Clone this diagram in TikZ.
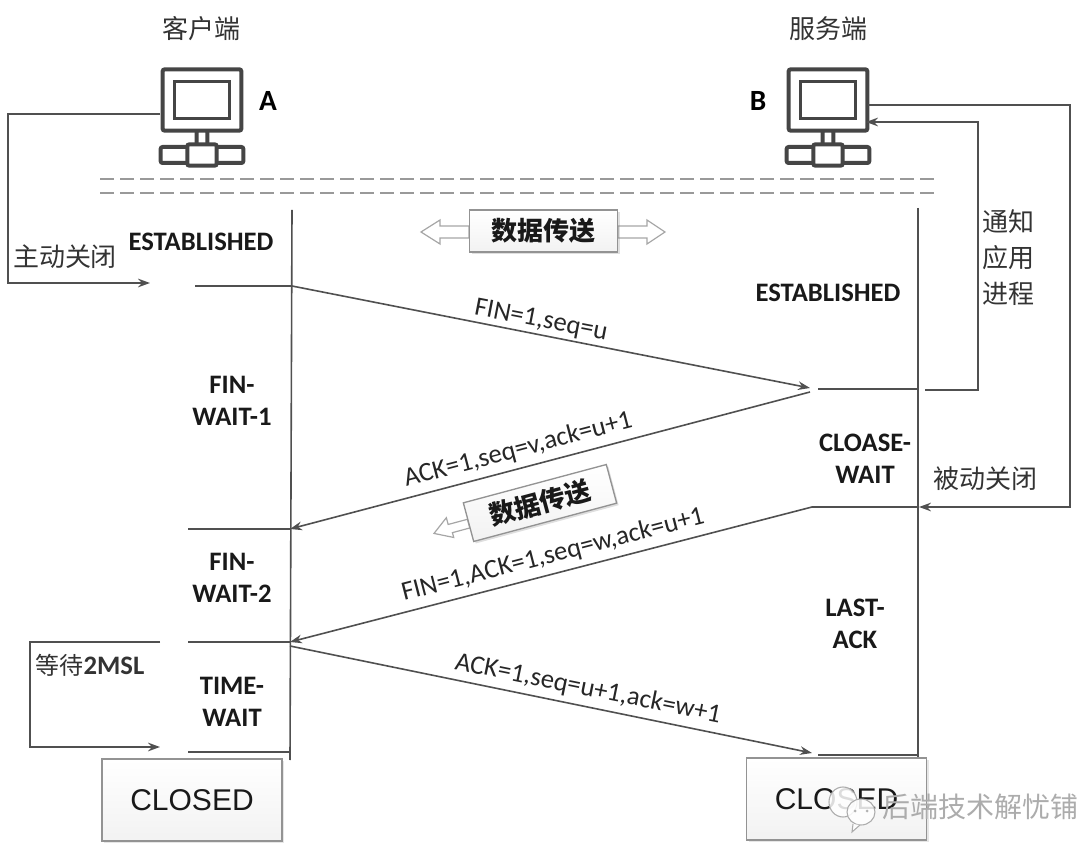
\documentclass[tikz,border=0pt]{standalone}
\usepackage{fontspec}
\setmainfont{Carlito}
\newfontfamily\cjk{Noto Sans CJK SC}
\newfontfamily\closedfont{Liberation Sans}
\usetikzlibrary{arrows.meta,shadows}
\definecolor{ln}{HTML}{505050}
\definecolor{pc}{HTML}{454545}
\tikzset{
  conn/.style={draw=ln,line width=1.2pt},
  arr/.style={conn,-{Stealth[length=9pt,width=6.5pt]}},
  dashln/.style={draw=gray!80,line width=1pt,dash pattern=on 10.5pt off 4.5pt},
  state/.style={font=\fontsize{20}{22}\selectfont\bfseries,align=center,text=black!90,inner sep=0pt},
  msg/.style={font=\fontsize{20}{22}\selectfont,text=black!85,inner sep=0pt},
  zh/.style={font=\cjk\fontsize{19.5}{27}\selectfont,align=center,text=black!80,inner sep=0pt},
  hostname/.style={font=\fontsize{22}{24}\selectfont\bfseries,inner sep=0pt},
  closedbox/.style={draw=gray!85,line width=1pt,top color=white,bottom color=gray!10,minimum width=135pt,minimum height=61.5pt,
     font=\closedfont\fontsize{22.5}{26}\selectfont,text=black!90,drop shadow={opacity=.2,shadow xshift=1.5pt,shadow yshift=-1.5pt}},
  databox/.style={draw=gray!85,line width=1pt,top color=white,bottom color=gray!10,minimum width=111pt,minimum height=31.5pt,
     font=\cjk\fontsize{19.5}{24}\bfseries\selectfont,text=black!90,inner sep=0pt,drop shadow={opacity=.25,shadow xshift=1.5pt,shadow yshift=-1.5pt}},
  hollow/.style={draw=gray!70,line width=.9pt,fill=white},
  pcpart/.style={draw=pc,line width=3pt,rounded corners=1.5pt,fill=white,inner sep=0pt,outer sep=0pt},
  pcinner/.style={draw=pc,line width=1.8pt,fill=white,inner sep=0pt},
  markname/.style={font=\cjk\fontsize{21}{24}\selectfont,text=gray!65,inner sep=0pt},
  bubble/.style={draw=gray!65,line width=.8pt,fill=white,fill opacity=.85},
}
% #1 name, #2 x of the screen centre
\newcommand{\pcicon}[2]{%
  \node[pcpart,minimum width=8pt,minimum height=12pt] (#1stem) at (#2,138) {};
  \node[pcpart,minimum width=62pt,minimum height=12pt] (#1base) at (#2,155) {};
  \node[pcpart,minimum width=22pt,minimum height=16pt] (#1hub) at (#2,155) {};
  \node[pcpart,minimum width=59pt,minimum height=46pt] (#1) at (#2,100) {};
  \node[pcinner,minimum width=41pt,minimum height=28pt] (#1in) at (#2,100) {};
}
\begin{document}
\begin{tikzpicture}[x=0.75pt,y=-0.75pt]
\useasboundingbox (0,0) rectangle (1079,848);

% named ends
\coordinate (dashAl) at (100,179); \coordinate (dashAr) at (938,179);
\coordinate (dashBl) at (100,193); \coordinate (dashBr) at (938,193);
\coordinate (lineAtop) at (292,210); \coordinate (lineAbot) at (290,760);
\coordinate (lineBtop) at (918,208); \coordinate (lineBbot) at (918,758);
\coordinate (aOut) at (160,114); \coordinate (aC1) at (8,114); \coordinate (aC2) at (8,283); \coordinate (aEnd) at (150,283);
\coordinate (bIn) at (866,122); \coordinate (bC1) at (978,122); \coordinate (bC2) at (978,390); \coordinate (bS) at (925,390);
\coordinate (cOut) at (868,105); \coordinate (cC1) at (1070,105); \coordinate (cC2) at (1070,507); \coordinate (cEnd) at (919,507);
\coordinate (t1) at (195,286); \coordinate (a1) at (292,286);
\coordinate (b1e) at (810,388); \coordinate (b1s) at (818,389); \coordinate (b1r) at (918,389);
\coordinate (b2s) at (810,392); \coordinate (a2) at (290,529); \coordinate (t2) at (188,529);
\coordinate (b3s) at (812,507); \coordinate (b3r) at (918,507); \coordinate (a3) at (290,642); \coordinate (t3) at (188,642);
\coordinate (a4) at (290,646); \coordinate (b4e) at (812,753); \coordinate (b4s) at (818,755); \coordinate (b4r) at (918,755);
\coordinate (t4) at (188,752); \coordinate (a5) at (290,752);
\coordinate (wS) at (160,642); \coordinate (wC1) at (30,642); \coordinate (wC2) at (30,747); \coordinate (wE) at (160,747);

% dashed separators
\draw[dashln] (dashAl) -- (dashAr);
\draw[dashln] (dashBl) -- (dashBr);

% icons
\pcicon{pcA}{202}
\pcicon{pcB}{828}

% titles
\node[zh] (clientT) at (201,29) {客户端};
\node[zh] (serverT) at (828,29) {服务端};
\node[hostname] (nameA) at (268,101) {A};
\node[hostname] (nameB) at (758,101) {B};

% timelines
\draw[conn] (lineAtop) -- (lineAbot);
\draw[conn] (lineBtop) -- (lineBbot);

% side connectors
\draw[arr] (aOut) -- (aC1) -- (aC2) -- (aEnd);
\draw[arr] (bS) -- (bC2) -- (bC1) -- (bIn);
\draw[arr] (cOut) -- (cC1) -- (cC2) -- (cEnd);
\draw[arr] (wS) -- (wC1) -- (wC2) -- (wE);

% ticks
\draw[conn] (t1) -- (a1);
\draw[conn] (b1s) -- (b1r);
\draw[conn] (t2) -- (a2);
\draw[conn] (b3s) -- (b3r);
\draw[conn] (t3) -- (a3);
\draw[conn] (b4s) -- (b4r);
\draw[conn] (t4) -- (a5);

% messages
\draw[arr] (a1) -- (b1e);
\draw[arr] (b2s) -- (a2);
\draw[arr] (b3s) -- (a3);
\draw[arr] (a4) -- (b4e);

% message labels
\node[msg,rotate=-11] (m1) at (541,321) {FIN=1,seq=u};
\node[msg,rotate=14.7] (m2) at (518,450) {ACK=1,seq=v,ack=u+1};
\node[msg,rotate=14.5] (m3) at (553,555) {FIN=1,ACK=1,seq=w,ack=u+1};
\node[msg,rotate=-11.5] (m4) at (588,689) {ACK=1,seq=u+1,ack=w+1};

% state labels
\node[state] (s1) at (201,242) {ESTABLISHED};
\node[state] (s2) at (232,401) {FIN-\\[2pt]WAIT-1};
\node[state] (s3) at (232,578) {FIN-\\[2pt]WAIT-2};
\node[state] (s4) at (232,702) {TIME-\\[2pt]WAIT};
\node[state] (s5) at (828,293) {ESTABLISHED};
\node[state] (s6) at (865,459) {CLOASE-\\[2pt]WAIT};
\node[state] (s7) at (855,624) {LAST-\\[2pt]ACK};

% side labels
\node[zh] (l1) at (65,257) {主动关闭};
\node[zh] (l2) at (1008,258) {通知\\应用\\进程};
\node[zh] (l3) at (985,479) {被动关闭};
\node[zh,font=\cjk\fontsize{18}{22}\selectfont] (l4) at (90,665) {等待{\fontspec{Carlito}\fontsize{20}{22}\selectfont\bfseries 2MSL}};

% data transfer, both ways
\draw[hollow] (469,226) -- (440,226) -- (440,220) -- (421,232) -- (440,244) -- (440,238) -- (469,238) -- cycle;
\draw[hollow] (618,226) -- (647,226) -- (647,220) -- (665,232) -- (647,244) -- (647,238) -- (618,238) -- cycle;
\node[databox] (dataA) at (543.5,231) {数据传送};

% data transfer, one way
\begin{scope}[shift={(540,504)},rotate=15]
  \draw[hollow] (-74,-4) -- (-94,-4) -- (-94,-11) -- (-110,1) -- (-92,10) -- (-92,5) -- (-74,5) -- cycle;
\end{scope}
\node[databox,rotate=15,minimum width=111pt,minimum height=30pt] (dataB) at (540,503) {数据传送};

% final state
\node[closedbox] (closedA) at (192,800) {CLOSED};
\node[closedbox] (closedB) at (836.5,799) {CLOSED};

% watermark
\draw[bubble] (843,802) circle[x radius=14,y radius=15];
\draw[bubble] (861,812) circle[x radius=14,y radius=13];
\draw[bubble] (853,824) -- (852,832) -- (860,825);
\fill[gray!60] (855,811) circle[radius=1.5] (867,811) circle[radius=1.5];
\node[markname,anchor=east] (mark) at (1079,807) {后端技术解忧铺};
\end{tikzpicture}
\end{document}
